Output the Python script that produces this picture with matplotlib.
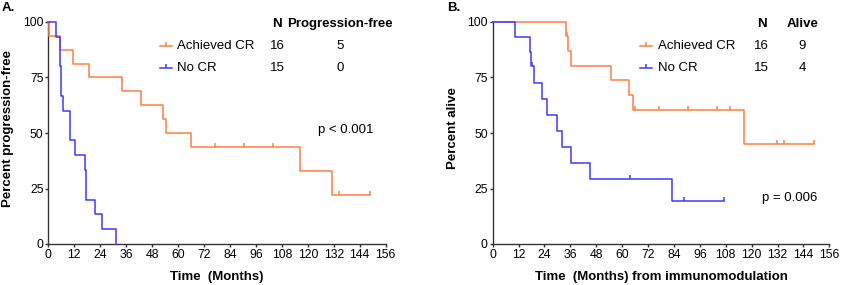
import numpy as np
import matplotlib
matplotlib.use('Agg')
import matplotlib.pyplot as plt

plt.rcParams['font.family'] = ['Liberation Sans', 'DejaVu Sans']
plt.rcParams['font.size'] = 8

ORANGE = '#FF7F3F'
BLUE = '#3A3AFF'

# --- Panel A: progression-free (months) ---
pfs_cr_t = [0, 0.3, 5.4, 11.6, 19.0, 33.9, 43.0, 52.9, 54.2, 66.1, 116.6, 131.4, 148.7]
pfs_cr_s = [100, 93.75, 87.5, 81.25, 75, 68.75, 62.5, 56.25, 50, 43.75, 32.8, 21.9, 21.9]
pfs_cr_cens_t = [77.0, 90.6, 103.7, 134.5, 148.7]
pfs_cr_cens_s = [43.75, 43.75, 43.75, 21.9, 21.9]

pfs_no_t = [0, 3.4, 5.2, 5.6, 5.9, 6.6, 10.2, 12.2, 16.8, 17.3, 21.6, 25.0, 31.4]
pfs_no_s = [100, 93.3, 86.7, 80.0, 66.7, 60.0, 46.7, 40.0, 33.3, 20.0, 13.3, 6.7, 0]

# --- Panel B: overall survival from immunomodulation ---
os_cr_t = [0, 34.0, 35.0, 36.1, 54.8, 63.3, 65.2, 116.6, 148.9]
os_cr_s = [100, 93.75, 87.0, 80.4, 73.7, 67.0, 60.3, 45.2, 45.2]
os_cr_cens_t = [34.3, 65.8, 77.1, 90.6, 103.8, 110.0, 131.7, 134.8, 148.9]
os_cr_cens_s = [93.75, 60.3, 60.3, 60.3, 60.3, 60.3, 45.2, 45.2, 45.2]

os_no_t = [0, 10.2, 17.3, 17.8, 19.1, 22.7, 25.3, 29.6, 32.3, 36.1, 45.1, 83.1, 107.2]
os_no_s = [100, 93.3, 86.7, 80.0, 72.7, 65.5, 58.2, 50.9, 43.6, 36.4, 29.1, 19.4, 19.4]
os_no_cens_t = [18.0, 63.6, 88.8, 107.2]
os_no_cens_s = [80.0, 29.1, 19.4, 19.4]

groups = ['Achieved CR', 'No CR']
n_pts = [16, 15]
pfs_free = [5, 0]
os_alive = [9, 4]

xticks = np.arange(0, 157, 12)
yticks = [0, 25, 50, 75, 100]

tick_up = [(0, 0), (0, 1)]

fig = plt.figure(figsize=(8.41, 2.85), dpi=100)
axA = fig.add_axes([48.3 / 841, 41 / 285, 337.4 / 841, 222 / 285])
axB = fig.add_axes([492.7 / 841, 41 / 285, 336.6 / 841, 222 / 285])


def style_axis(ax):
    for s in ['top', 'right']:
        ax.spines[s].set_visible(False)
    for s in ['left', 'bottom']:
        ax.spines[s].set_linewidth(1.0)
        ax.spines[s].set_color('#333333')
    ax.set_xlim(0, 156)
    ax.set_ylim(0, 100)
    ax.set_xticks(xticks)
    ax.set_yticks(yticks)
    ax.tick_params(direction='out', length=2.5, width=1.0, pad=1,
                   labelsize=8.8, color='#333333')


def km(ax, t, s, ct, cs, color):
    ax.step(t, s, where='post', color=color, lw=1.1, clip_on=False, zorder=3)
    ax.plot(ct, cs, ls='none', marker=tick_up, ms=6.2, mew=1.1,
            color=color, clip_on=False, zorder=3)


def legend_table(ax, xl0, xtext, xn, xv, header, vals):
    ax.text(xn, 0.991, 'N', transform=ax.transAxes, ha='center', va='center',
            fontsize=9.5, fontweight='bold')
    ax.text(xv, 0.991, header, transform=ax.transAxes, ha='center', va='center',
            fontsize=9.5, fontweight='bold')
    for yy, col, g, n, v in zip([0.892, 0.793], [ORANGE, BLUE], groups, n_pts, vals):
        ax.plot([xl0, xl0 + 0.036], [yy, yy], transform=ax.transAxes,
                color=col, lw=1.1, clip_on=False)
        ax.plot([xl0 + 0.018], [yy], transform=ax.transAxes, ls='none',
                marker=tick_up, ms=6.2, mew=1.1, color=col, clip_on=False)
        ax.text(xtext, yy, g, transform=ax.transAxes, ha='left', va='center', fontsize=9.5)
        ax.text(xn, yy, str(n), transform=ax.transAxes, ha='center', va='center', fontsize=9.5)
        ax.text(xv, yy, str(v), transform=ax.transAxes, ha='center', va='center', fontsize=9.5)


def labels(ax, xl_x, ylab, xlab):
    ax.text(xl_x, 0.52, ylab, transform=ax.transAxes, rotation=90,
            ha='center', va='center', fontsize=9.5, fontweight='bold')
    ax.text(0.5, -0.149, xlab, transform=ax.transAxes,
            ha='center', va='center', fontsize=9.5, fontweight='bold')


# Panel A
style_axis(axA)
km(axA, pfs_cr_t, pfs_cr_s, pfs_cr_cens_t, pfs_cr_cens_s, ORANGE)
axA.step(pfs_no_t, pfs_no_s, where='post', color=BLUE, lw=1.1, clip_on=False, zorder=3)
labels(axA, -0.119, 'Percent progression-free', 'Time  (Months)')
legend_table(axA, 0.331, 0.382, 0.678, 0.864, 'Progression-free', pfs_free)
axA.text(0.881, 0.514, 'p < 0.001', transform=axA.transAxes, ha='center',
         va='center', fontsize=9.5)

# Panel B
style_axis(axB)
km(axB, os_cr_t, os_cr_s, os_cr_cens_t, os_cr_cens_s, ORANGE)
km(axB, os_no_t, os_no_s, os_no_cens_t, os_no_cens_s, BLUE)
labels(axB, -0.118, 'Percent alive', 'Time  (Months) from immunomodulation')
legend_table(axB, 0.438, 0.490, 0.799, 0.920, 'Alive', os_alive)
axB.text(0.966, 0.207, 'p = 0.006', transform=axB.transAxes, ha='right',
         va='center', fontsize=9.5)

fig.text(2 / 841, 1 - 8 / 285, 'A.', ha='left', va='center', fontsize=9.5, fontweight='bold')
fig.text(447 / 841, 1 - 8 / 285, 'B.', ha='left', va='center', fontsize=9.5, fontweight='bold')

fig.savefig('out.png', dpi=100)
